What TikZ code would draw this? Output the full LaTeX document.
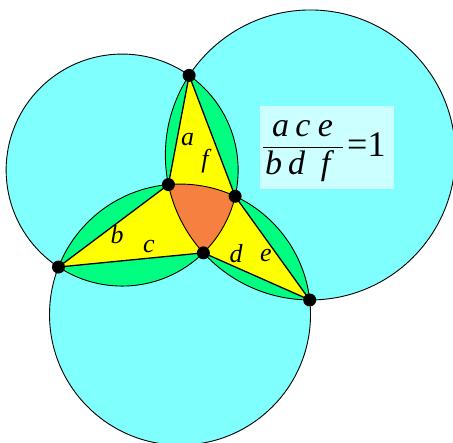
\documentclass[tikz,border=0pt]{standalone}
\usepackage{fontspec}
\setmainfont{Liberation Serif}
\begin{document}
\begin{tikzpicture}[x=1pt,y=-1pt,
  circline/.style={draw=black,line width=0.9pt},
  chord/.style={draw=black,line width=1.3pt,line cap=round},
  dot/.style={circle,fill=black,inner sep=0pt,minimum size=13pt},
  lab/.style={font=\fontsize{26}{30}\selectfont\itshape,inner sep=0pt,anchor=base},
  frm/.style={font=\fontsize{34}{38}\selectfont\itshape,inner sep=0pt,anchor=base}]
\definecolor{cyanfill}{RGB}{128,255,255}
\definecolor{greenfill}{RGB}{0,255,128}
\definecolor{yellowfill}{RGB}{255,255,0}
\definecolor{orangefill}{RGB}{245,128,64}
\definecolor{boxfill}{RGB}{204,255,255}
\useasboundingbox (0,0) rectangle (453,443);
\clip (0,0) rectangle (453,443);
\fill[white] (0,0) rectangle (453,443);
\def\rOne{116pt}
\def\rTwo{145pt}
\def\rThree{130.5pt}
\coordinate (O1) at (122.14,170.07);
\coordinate (O2) at (310.36,154.96);
\coordinate (O3) at (180.02,314.57);
\coordinate (T) at (189.15,75.39);
\coordinate (L) at (58.48,267.04);
\coordinate (R) at (309.70,299.95);
\coordinate (P1) at (168.42,184.59);
\coordinate (Q) at (235.14,196.28);
\coordinate (P2) at (203.39,252.85);
% cyan discs
\fill[cyanfill] (O1) circle[radius=\rOne] (O2) circle[radius=\rTwo] (O3) circle[radius=\rThree];
% green pairwise overlaps
\begin{scope}
  \clip (O1) circle[radius=\rOne];
  \fill[greenfill] (O2) circle[radius=\rTwo] (O3) circle[radius=\rThree];
\end{scope}
\begin{scope}
  \clip (O2) circle[radius=\rTwo];
  \fill[greenfill] (O3) circle[radius=\rThree];
\end{scope}
% yellow triangles
\fill[yellowfill] (T) -- (P1) -- (Q) -- cycle;
\fill[yellowfill] (L) -- (P1) -- (P2) -- cycle;
\fill[yellowfill] (R) -- (Q) -- (P2) -- cycle;
% orange triple overlap
\begin{scope}
  \clip (O1) circle[radius=\rOne];
  \clip (O2) circle[radius=\rTwo];
  \fill[orangefill] (O3) circle[radius=\rThree];
\end{scope}
% chords
\draw[chord] (P1) -- (T) -- (Q);
\draw[chord] (P1) -- (L) -- (P2);
\draw[chord] (Q) -- (R) -- (P2);
% circle outlines
\draw[circline] (O1) circle[radius=\rOne];
\draw[circline] (O2) circle[radius=\rTwo];
\draw[circline] (O3) circle[radius=\rThree];
% labels
\node[lab] (la) at (187.5,146) {a};
\node[lab] (lf) at (205,168) {f};
\node[lab] (lb) at (117,244) {b};
\node[lab] (lc) at (149,253) {c};
\node[lab] (ld) at (236,263) {d};
\node[lab] (le) at (266,262) {e};
% formula box
\node[fill=boxfill,inner sep=0pt,minimum width=134pt,minimum height=83pt] (box) at (326.5,148) {};
\coordinate (barL) at (263,147.5);
\coordinate (barR) at (343,147.5);
\draw[line width=1.3pt] (barL) -- (barR);
\node[frm] (na) at (280.5,136.5) {a};
\node[frm] (nc) at (303,136.5) {c};
\node[frm] (ne) at (325.5,136.5) {e};
\node[frm] (db) at (273.5,174.5) {b};
\node[frm] (dd) at (296.5,174.5) {d};
\node[frm] (df) at (325.5,174.5) {f};
\node[font=\fontsize{36}{40}\selectfont,inner sep=0pt,anchor=base west] (eq) at (347,157) {=1};
% points
\node[dot] (dT) at (T) {};
\node[dot] (dL) at (L) {};
\node[dot] (dR) at (R) {};
\node[dot] (dP1) at (P1) {};
\node[dot] (dQ) at (Q) {};
\node[dot] (dP2) at (P2) {};
\end{tikzpicture}
\end{document}
